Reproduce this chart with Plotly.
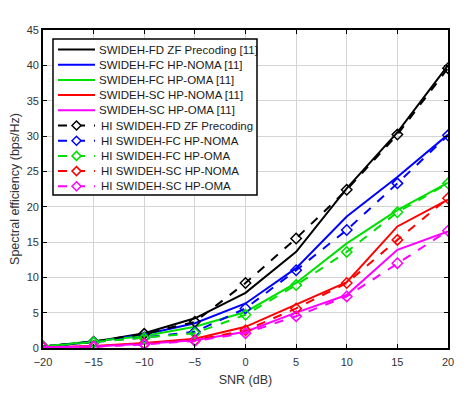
import plotly.graph_objects as go

snr = [-20, -15, -10, -5, 0, 5, 10, 15, 20]

names_ref = ["SWIDEH-FD ZF Precoding [11]", "SWIDEH-FC HP-NOMA [11]", "SWIDEH-FC HP-OMA [11]",
             "SWIDEH-SC HP-NOMA [11]", "SWIDEH-SC HP-OMA [11]"]
names_hi = ["HI SWIDEH-FD ZF Precoding", "HI SWIDEH-FC HP-NOMA", "HI SWIDEH-FC HP-OMA",
            "HI SWIDEH-SC HP-NOMA", "HI SWIDEH-SC HP-OMA"]
colors = ["#000000", "#0000FF", "#00E000", "#FF0000", "#FF00FF"]

ref_fd_zf = [0.2, 0.9, 2.1, 4.2, 7.8, 13.6, 22.6, 30.5, 40.0]
ref_fc_noma = [0.2, 0.9, 1.9, 3.5, 6.3, 11.3, 18.6, 24.2, 30.2]
ref_fc_oma = [0.2, 0.9, 1.7, 3.0, 5.1, 9.2, 14.8, 19.5, 23.4]
ref_sc_noma = [0.1, 0.3, 0.7, 1.3, 3.0, 6.1, 9.3, 17.2, 21.0]
ref_sc_oma = [0.1, 0.2, 0.6, 1.1, 2.3, 5.0, 7.5, 13.9, 16.5]

hi_fd_zf = [0.2, 0.9, 2.0, 3.7, 9.2, 15.5, 22.4, 30.2, 39.6]
hi_fc_noma = [0.2, 0.8, 1.5, 2.3, 5.6, 11.0, 16.7, 23.3, 30.1]
hi_fc_oma = [0.2, 0.8, 1.4, 2.1, 4.7, 8.9, 13.6, 19.2, 23.3]
hi_sc_noma = [0.1, 0.2, 0.6, 1.1, 2.5, 5.6, 9.2, 15.3, 21.2]
hi_sc_oma = [0.1, 0.2, 0.5, 1.0, 2.1, 4.5, 7.3, 12.0, 16.6]

ref_series = [ref_fd_zf, ref_fc_noma, ref_fc_oma, ref_sc_noma, ref_sc_oma]
hi_series = [hi_fd_zf, hi_fc_noma, hi_fc_oma, hi_sc_noma, hi_sc_oma]

x_ticks = [-20, -15, -10, -5, 0, 5, 10, 15, 20]
y_ticks = [0, 5, 10, 15, 20, 25, 30, 35, 40, 45]

# layout geometry (pixels); the page body has an 8px margin
OFF = 8
W, H = 474 - 2 * OFF, 398 - 2 * OFF
ML, MT = 43 - OFF, 30 - OFF
MR = W - (448 - OFF)
MB = H - (348 - OFF)
PW, PH = W - ML - MR, H - MT - MB


def px(p):
    """window pixel x -> paper fraction"""
    return (p - OFF - ML) / PW


def py(p):
    """window pixel y -> paper fraction"""
    return (H - MB - (p - OFF)) / PH


fig = go.Figure()
for name, c, y in zip(names_ref, colors, ref_series):
    fig.add_trace(go.Scatter(x=snr, y=y, name=name, mode="lines",
                             line=dict(color=c, width=2), showlegend=False))
for name, c, y in zip(names_hi, colors, hi_series):
    fig.add_trace(go.Scatter(x=snr, y=y, name=name, mode="lines+markers",
                             line=dict(color=c, width=2, dash="dash"),
                             marker=dict(symbol="diamond-open", size=8, color=c,
                                         line=dict(width=1.5, color=c)),
                             showlegend=False))

# custom legend (compact, like the MATLAB original)
shapes = []
annotations = []
box_l, box_r, box_t, box_b = 53, 257, 39, 195
shapes.append(dict(type="rect", xref="paper", yref="paper",
                   x0=px(box_l), x1=px(box_r), y0=py(box_b), y1=py(box_t),
                   fillcolor="white", line=dict(color="black", width=1.5), layer="above"))
row0, step = 49.5, 15.2
all_names = names_ref + names_hi
for i, name in enumerate(all_names):
    yc = row0 + i * step
    c = colors[i % 5]
    dashed = i >= 5
    shapes.append(dict(type="line", xref="paper", yref="paper",
                       x0=px(58), x1=px(95), y0=py(yc), y1=py(yc),
                       line=dict(color=c, width=2, dash="dash" if dashed else "solid"),
                       layer="above"))
    if dashed:
        cx, r = 76.5, 4.5
        path = (f"M {px(cx)},{py(yc - r)} L {px(cx + r)},{py(yc)} "
                f"L {px(cx)},{py(yc + r)} L {px(cx - r)},{py(yc)} Z")
        shapes.append(dict(type="path", xref="paper", yref="paper", path=path,
                           fillcolor="white", line=dict(color=c, width=1.5), layer="above"))
    annotations.append(dict(xref="paper", yref="paper", x=px(97 if not dashed else 99),
                            y=py(yc), text=name, showarrow=False, xanchor="left",
                            yanchor="middle", font=dict(size=11.5, color="#1a1a1a")))

axis_common = dict(showgrid=True, gridcolor="#D4D4D4", gridwidth=1.2,
                   showline=True, linecolor="black", linewidth=1.8, mirror="ticks",
                   ticks="inside", ticklen=4, tickcolor="black", zeroline=False,
                   automargin=False,
                   tickfont=dict(size=11, color="#333333"))

fig.update_layout(
    width=W, height=H,
    margin=dict(l=ML, r=MR, t=MT, b=MB),
    paper_bgcolor="white", plot_bgcolor="white",
    font=dict(family="Liberation Sans, Arial, sans-serif", color="#333333"),
    xaxis=dict(range=[-20, 20], tickvals=x_ticks, ticklabelstandoff=3,
               title=dict(text="SNR (dB)", font=dict(size=12.5), standoff=8),
               **axis_common),
    yaxis=dict(range=[0, 45], tickvals=y_ticks,
               title=dict(text="Spectral efficiency (bps/Hz)", font=dict(size=12.5), standoff=6),
               **axis_common),
    shapes=shapes,
    annotations=annotations,
    showlegend=False,
)

fig.write_html("out.html")
